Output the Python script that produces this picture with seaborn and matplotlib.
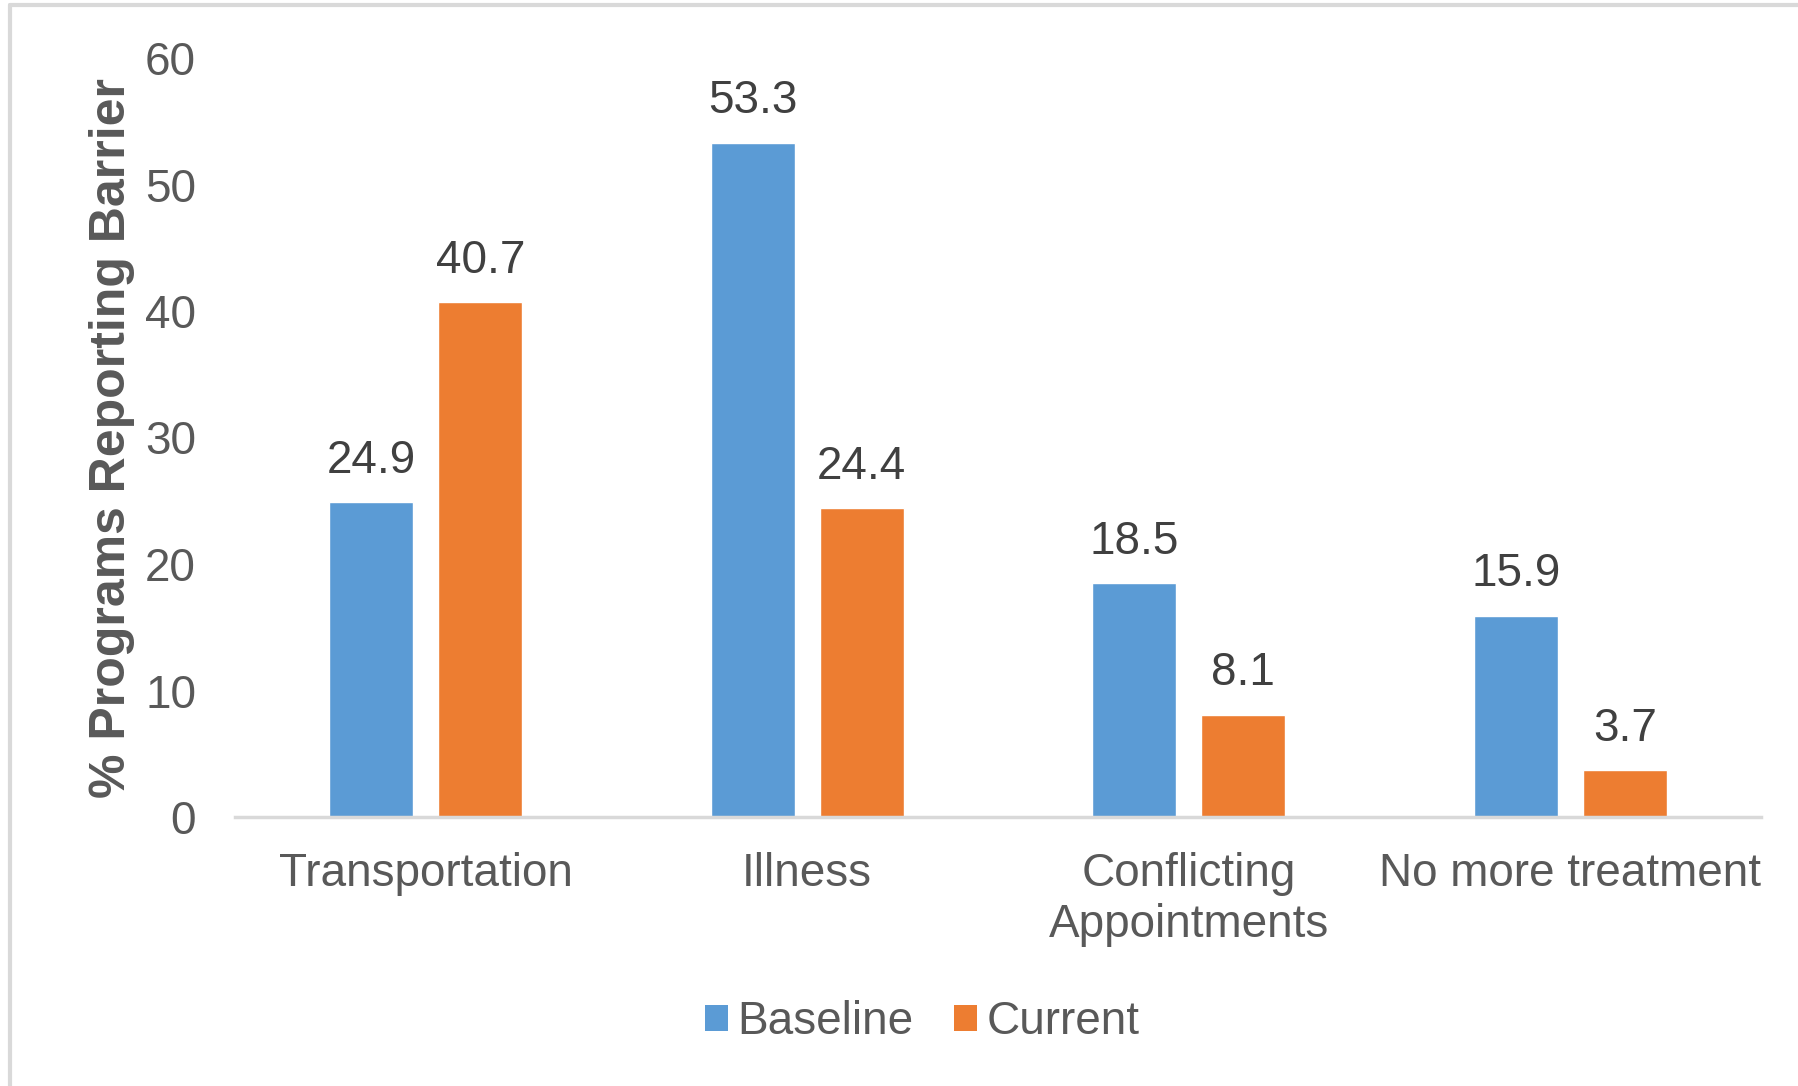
import matplotlib
matplotlib.use("Agg")
import matplotlib.pyplot as plt
from matplotlib.lines import Line2D
from matplotlib.patches import Patch
import seaborn as sns
import pandas as pd

# Barrier categories and the share of programs reporting each one
categories = ["Transportation", "Illness", "Conflicting\nAppointments", "No more treatment"]
baseline = [24.9, 53.3, 18.5, 15.9]
current = [40.7, 24.4, 8.1, 3.7]
series_names = ["Baseline", "Current"]
y_ticks = [0, 10, 20, 30, 40, 50, 60]

colors = {"Baseline": "#5B9BD5", "Current": "#ED7D31"}
text_gray = "#595959"
label_gray = "#404040"
grid_gray = "#D9D9D9"

df = pd.DataFrame({
    "Barrier": categories * 2,
    "Series": [series_names[0]] * len(categories) + [series_names[1]] * len(categories),
    "Value": baseline + current,
})

sns.set_theme(style="white")
plt.rcParams["font.family"] = ["Liberation Sans", "DejaVu Sans"]

W, H = 1799, 1086
fig = plt.figure(figsize=(W / 100, H / 100), dpi=100)
ax = fig.add_axes([235 / W, 1 - 817 / H, (1761 - 235) / W, (817 - 58) / H])

sns.barplot(data=df, x="Barrier", y="Value", hue="Series", order=categories,
            hue_order=series_names, palette=colors, width=0.571, gap=0.23,
            saturation=1, ax=ax, legend=False)

for container in ax.containers:
    ax.bar_label(container, fmt="%.1f", padding=14, fontsize=33, color=label_gray)

ax.set_xlim(-0.5, len(categories) - 0.5)
ax.set_ylim(0, 60)
ax.set_yticks(y_ticks)
ax.set_yticklabels([str(t) for t in y_ticks])
ax.tick_params(axis="y", length=0, pad=28, labelsize=33, labelcolor=text_gray)
ax.tick_params(axis="x", length=0, pad=25, labelsize=33, labelcolor=text_gray)
for lbl in ax.get_xticklabels():
    lbl.set_linespacing(1.2)

ax.set_xlabel("")
ax.set_ylabel("% Programs Reporting Barrier", fontsize=36, fontweight="bold",
              color=text_gray, labelpad=7)

for side in ["top", "right", "left"]:
    ax.spines[side].set_visible(False)
ax.spines["bottom"].set_color(grid_gray)
ax.spines["bottom"].set_linewidth(2.5)

handles = [Patch(facecolor=colors[s], edgecolor="none", label=s) for s in series_names]
fig.legend(handles=handles, loc="center", bbox_to_anchor=(922 / W, 1 - 1022 / H),
           ncol=2, frameon=False, fontsize=33, labelcolor=text_gray,
           handlelength=0.5, handleheight=0.5, handletextpad=0.2, columnspacing=0.9)

# Thin frame along the left and top edges of the chart area
fig.add_artist(Line2D([10 / W, 10 / W], [0, 1 - 5 / H], transform=fig.transFigure,
                      color=grid_gray, linewidth=3))
fig.add_artist(Line2D([10 / W, 1], [1 - 5 / H, 1 - 5 / H], transform=fig.transFigure,
                      color=grid_gray, linewidth=3))

fig.savefig("out.png", dpi=100, facecolor="white")
